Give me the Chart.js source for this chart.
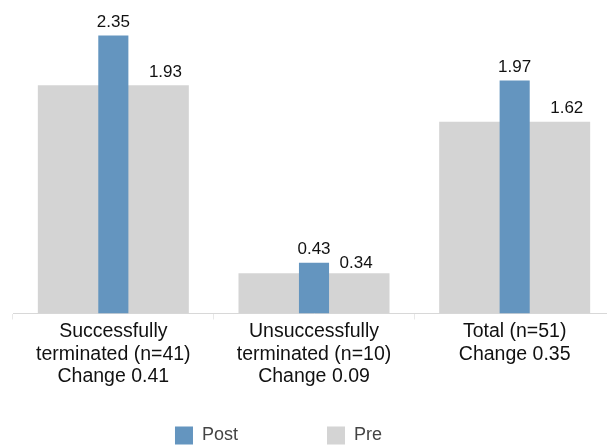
<!DOCTYPE html>
<html>
<head>
<meta charset="utf-8">
<script src="https://cdn.jsdelivr.net/npm/chart.js@4/dist/chart.umd.min.js"></script>
<style>
  html, body { margin: 0; padding: 0; background: #fff; overflow: hidden; }
  #wrap { position: relative; width: 607px; height: 445px; overflow: hidden; }
  canvas { position: absolute; left: 0; top: 0; }
</style>
</head>
<body>
<div id="wrap"><canvas id="c" width="628" height="506"></canvas></div>
<script>
// Groups, sample sizes and change text shown under each pair of bars
const groupNames = [["Successfully", "terminated"], ["Unsuccessfully", "terminated"], ["Total"]];
const groupN = [41, 10, 51];
const groupChange = ["0.41", "0.09", "0.35"];

// Mean scores before and after
const postValues = [2.35, 0.43, 1.97];
const preValues = [1.93, 0.34, 1.62];

const categoryLabels = groupNames.map((parts, i) => {
  const lines = parts.slice();
  lines[lines.length - 1] = lines[lines.length - 1] + " (n=" + groupN[i] + ")";
  lines.push("Change " + groupChange[i]);
  return lines;
});

const FONT = "'Liberation Sans', Arial, Helvetica, sans-serif";
const POST_COLOR = "#6495BF";
const PRE_COLOR = "#D4D4D4";

// Value labels above each bar; the wide "Pre" bar gets its label on its right half.
// Optional per-label nudges (dataset index : point index) keep small labels apart.
const valueLabels = {
  id: "valueLabels",
  afterDatasetsDraw(chart, args, opts) {
    const ctx = chart.ctx;
    const nudge = opts.nudge || {};
    ctx.save();
    ctx.font = "17px " + FONT;
    ctx.fillStyle = "#111";
    ctx.textAlign = "center";
    ctx.textBaseline = "alphabetic";
    chart.data.datasets.forEach((ds, di) => {
      const meta = chart.getDatasetMeta(di);
      meta.data.forEach((el, i) => {
        const p = el.getProps(["x", "y", "width"], true);
        const [nx, ny] = nudge[di + ":" + i] || [0, 0];
        const x = (ds.labelSide === "right" ? p.x + p.width * 0.345 : p.x) + nx;
        ctx.fillText(ds.data[i].toFixed(2), x, p.y - 8.5 + ny);
      });
    });
    ctx.restore();
  }
};

// Moves the bottom legend after layout
const legendShift = {
  id: "legendShift",
  afterLayout(chart, args, opts) {
    const lg = chart.legend;
    if (lg) {
      lg.left += opts.dx; lg.right += opts.dx;
      lg.top += opts.dy; lg.bottom += opts.dy;
    }
  }
};

new Chart(document.getElementById("c"), {
  type: "bar",
  data: {
    labels: categoryLabels,
    datasets: [
      {
        label: "Post",
        data: postValues,
        backgroundColor: POST_COLOR,
        borderWidth: 0,
        grouped: false,
        categoryPercentage: 1,
        barPercentage: 0.15,
        labelSide: "center"
      },
      {
        label: "Pre",
        data: preValues,
        backgroundColor: PRE_COLOR,
        borderWidth: 0,
        grouped: false,
        categoryPercentage: 1,
        barPercentage: 0.7525,
        labelSide: "right"
      }
    ]
  },
  options: {
    responsive: false,
    devicePixelRatio: 1,
    animation: false,
    layout: { padding: { left: 13, right: 13, top: 0, bottom: 0 } },
    scales: {
      x: {
        offset: true,
        grid: {
          offset: true,
          drawOnChartArea: false,
          drawTicks: true,
          tickLength: 6,
          color: "#e8e8e8"
        },
        border: { display: true, color: "#d8d8d8", dash: [1, 1] },
        ticks: {
          font: { family: FONT, size: 19.5, lineHeight: 1.16 },
          color: "#111",
          padding: 1,
          maxRotation: 0,
          autoSkip: false
        },
        afterFit(scale) { scale.height = 75.5; }
      },
      y: {
        display: false,
        min: 0,
        max: 2.65
      }
    },
    plugins: {
      tooltip: { enabled: false },
      valueLabels: { nudge: { "1:1": [-10, 3] } },
      legendShift: { dx: -35.5, dy: -51.5 },
      legend: {
        position: "bottom",
        onClick: null,
        labels: {
          boxWidth: 18,
          boxHeight: 18,
          padding: 89,
          color: "#444",
          font: { family: FONT, size: 18 }
        }
      }
    }
  },
  plugins: [valueLabels, legendShift]
});
</script>
</body>
</html>
